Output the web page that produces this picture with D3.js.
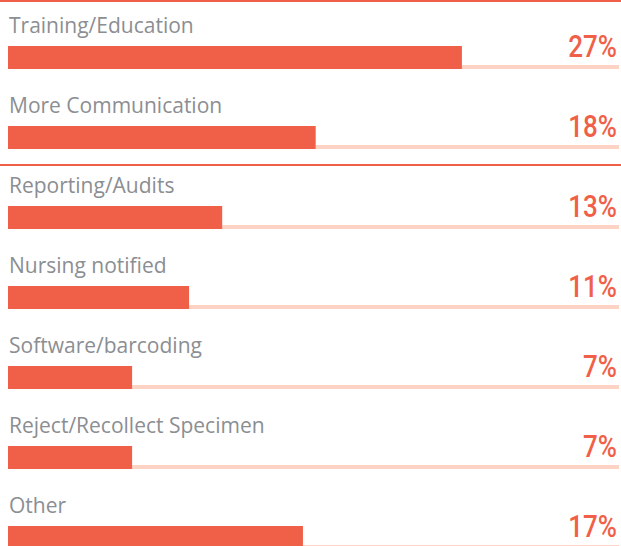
<!DOCTYPE html>
<html>
<head>
<meta charset="utf-8">
<script src="https://cdn.jsdelivr.net/npm/d3@7"></script>
<style>
  html, body { margin: 0; padding: 0; background: #fff; overflow: hidden; }
  svg { display: block; }
</style>
</head>
<body>
<svg id="chart" width="621" height="546"></svg>
<script>
const categories = ["Training/Education", "More Communication", "Reporting/Audits", "Nursing notified", "Software/barcoding", "Reject/Recollect Specimen", "Other"];
const values = [26.7, 18.1, 12.6, 10.65, 7.3, 7.3, 17.35];
const valueLabels = ["27%", "18%", "13%", "11%", "7%", "7%", "17%"];
const separatorsAfter = [1]; // a divider line is drawn after these row indices

const W = 621, H = 546;
const svg = d3.select("#chart");
const orange = "#f05f48";
const track = "#fcd3c5";
const gray = "#8b8e92";

const x = d3.scaleLinear().domain([0, 36]).range([8, 620]);
const y = d3.scaleBand().domain(categories).range([0, 560]).paddingInner(0).paddingOuter(0);

// top rule
svg.append("rect").attr("x", 0).attr("y", 0).attr("width", W).attr("height", 2).attr("fill", orange);

const rows = svg.selectAll("g.row").data(categories).join("g")
  .attr("class", "row")
  .attr("transform", d => `translate(0,${y(d)})`);

// track
rows.append("rect")
  .attr("x", (d, i) => x(values[i]))
  .attr("y", 65)
  .attr("width", (d, i) => x.range()[1] - x(values[i]) - 1)
  .attr("height", 4)
  .attr("fill", track);

// bar
rows.append("rect")
  .attr("x", x(0))
  .attr("y", 46)
  .attr("width", (d, i) => x(values[i]) - x(0))
  .attr("height", 23)
  .attr("fill", orange);

// label
rows.append("text")
  .attr("x", 9)
  .attr("y", 33)
  .attr("font-family", "'Open Sans', sans-serif")
  .attr("font-size", 21)
  .attr("fill", gray)
  .text(d => d);

// value
rows.append("text")
  .attr("transform", "translate(617,57) scale(0.84,1)")
  .attr("text-anchor", "end")
  .attr("font-family", "Roboto, sans-serif")
  .attr("font-weight", 500)
  .attr("font-size", 31)
  .attr("fill", orange)
  .text((d, i) => valueLabels[i]);

// separators
separatorsAfter.forEach(i => {
  const yy = y(categories[i]) + y.bandwidth() + 4;
  svg.append("rect").attr("x", 0).attr("y", yy).attr("width", W).attr("height", 2).attr("fill", orange);
});
</script>
</body>
</html>
